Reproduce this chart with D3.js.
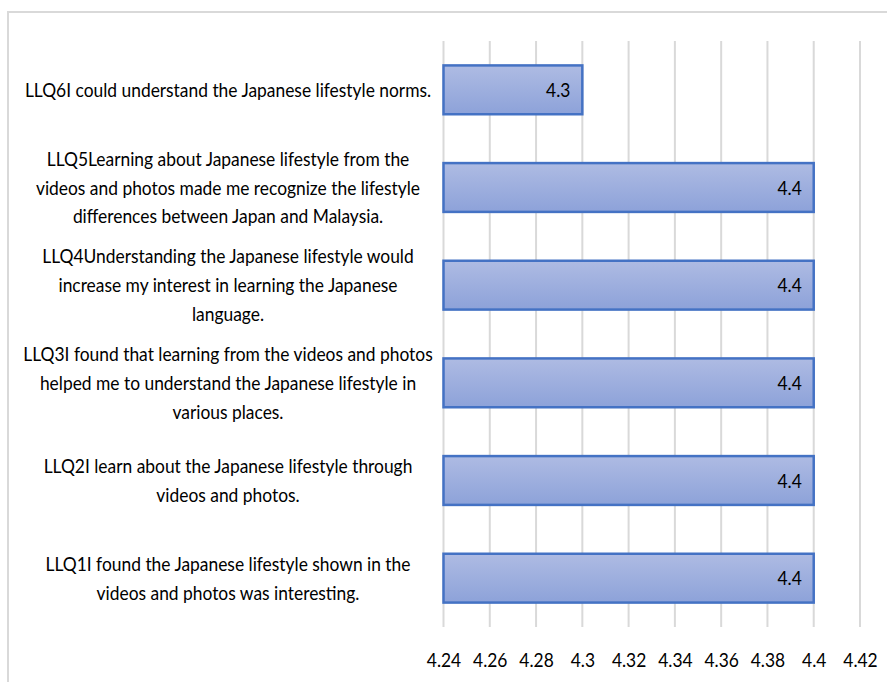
<!DOCTYPE html>
<html>
<head>
<meta charset="utf-8">
<script src="https://cdn.jsdelivr.net/npm/d3@7/dist/d3.min.js"></script>
<style>
  html, body { margin: 0; padding: 0; background: #fff; }
  svg { display: block; }
  text { font-family: Lato, "Open Sans", sans-serif; fill: #000; font-size: 20px; }
</style>
</head>
<body>
<svg id="chart" width="887" height="682"></svg>
<script>
// Survey items, listed top to bottom
const categories = ["LLQ6", "LLQ5", "LLQ4", "LLQ3", "LLQ2", "LLQ1"];
// Mean scores for each item
const values = [4.3, 4.4, 4.4, 4.4, 4.4, 4.4];
// Item wording, already wrapped into display lines
const labelLines = [
  ["LLQ6I could understand the Japanese lifestyle norms."],
  ["LLQ5Learning about Japanese lifestyle from the",
   "videos and photos made me recognize the lifestyle",
   "differences between Japan and Malaysia."],
  ["LLQ4Understanding the Japanese lifestyle would",
   "increase my interest in learning the Japanese",
   "language."],
  ["LLQ3I found that learning from the videos and photos",
   "helped me to understand the Japanese lifestyle in",
   "various places."],
  ["LLQ2I learn about the Japanese lifestyle through",
   "videos and photos."],
  ["LLQ1I found the Japanese lifestyle shown in the",
   "videos and photos was interesting."]
];
// Value axis ticks
const xTicks = [4.24, 4.26, 4.28, 4.3, 4.32, 4.34, 4.36, 4.38, 4.4, 4.42];

const svg = d3.select("#chart");
const fmt = d3.format("~g");

// horizontal squeeze applied to all text (condensed look)
const sx = 0.87;
function placeText(sel, px, py) {
  sel.attr("transform", (d, i) => `translate(${px(d, i)},${py(d, i)}) scale(${sx},1)`);
}

// light chart-area frame (top and left edges)
svg.append("path")
  .attr("d", "M8,682 L8,12 L887,12")
  .attr("fill", "none")
  .attr("stroke", "#d9d9d9")
  .attr("stroke-width", 2);

const plot = { left: 443.5, right: 860, top: 41, bottom: 627 };

const x = d3.scaleLinear()
  .domain([xTicks[0], xTicks[xTicks.length - 1]])
  .range([plot.left, plot.right]);

const y = d3.scaleBand()
  .domain(categories)
  .range([plot.top, plot.bottom])
  .paddingInner(0.5)
  .paddingOuter(0.25);

// gradient fill for the bars
const defs = svg.append("defs");
const grad = defs.append("linearGradient")
  .attr("id", "barFill")
  .attr("x1", 0).attr("y1", 0).attr("x2", 0).attr("y2", 1);
grad.append("stop").attr("offset", "0%").attr("stop-color", "#aebbe3");
grad.append("stop").attr("offset", "100%").attr("stop-color", "#8da2d9");

// vertical gridlines
svg.append("g")
  .selectAll("line")
  .data(xTicks)
  .join("line")
  .attr("x1", d => x(d)).attr("x2", d => x(d))
  .attr("y1", plot.top).attr("y2", plot.bottom)
  .attr("stroke", "#d9d9d9")
  .attr("stroke-width", 2);

// x-axis tick labels
const xAxis = d3.axisBottom(x)
  .tickValues(xTicks)
  .tickSize(0)
  .tickPadding(0)
  .tickFormat(fmt);
const gx = svg.append("g")
  .attr("transform", `translate(0, ${plot.bottom})`)
  .call(xAxis);
gx.select(".domain").remove();
gx.attr("font-family", null).attr("font-size", null);
gx.selectAll(".tick text")
  .attr("y", 0)
  .attr("dy", null)
  .attr("fill", "#000")
  .attr("transform", `translate(0,40) scale(${sx},1)`);

// bars
svg.append("g")
  .selectAll("rect")
  .data(values)
  .join("rect")
  .attr("x", x(xTicks[0]))
  .attr("y", (d, i) => y(categories[i]))
  .attr("width", d => x(d) - x(xTicks[0]))
  .attr("height", y.bandwidth())
  .attr("fill", "url(#barFill)")
  .attr("stroke", "#4472c4")
  .attr("stroke-width", 2.5);

// value labels inside bar ends
svg.append("g")
  .selectAll("text")
  .data(values)
  .join("text")
  .attr("dy", "0.35em")
  .attr("text-anchor", "end")
  .text(d => fmt(d))
  .call(placeText, d => x(d) - 12, (d, i) => y(categories[i]) + y.bandwidth() / 2);

// category labels, centred on each bar
const lineH = 28.8;
const labelX = 228;
svg.append("g")
  .selectAll("text")
  .data(labelLines)
  .join("text")
  .attr("text-anchor", "middle")
  .call(placeText, () => labelX, (lines, i) => y(categories[i]) + y.bandwidth() / 2)
  .each(function (lines) {
    const y0 = -(lines.length - 1) * lineH / 2;
    d3.select(this).selectAll("tspan")
      .data(lines)
      .join("tspan")
      .attr("x", 0)
      .attr("y", (l, j) => y0 + j * lineH)
      .attr("dy", "0.35em")
      .text(l => l);
  });
</script>
</body>
</html>
